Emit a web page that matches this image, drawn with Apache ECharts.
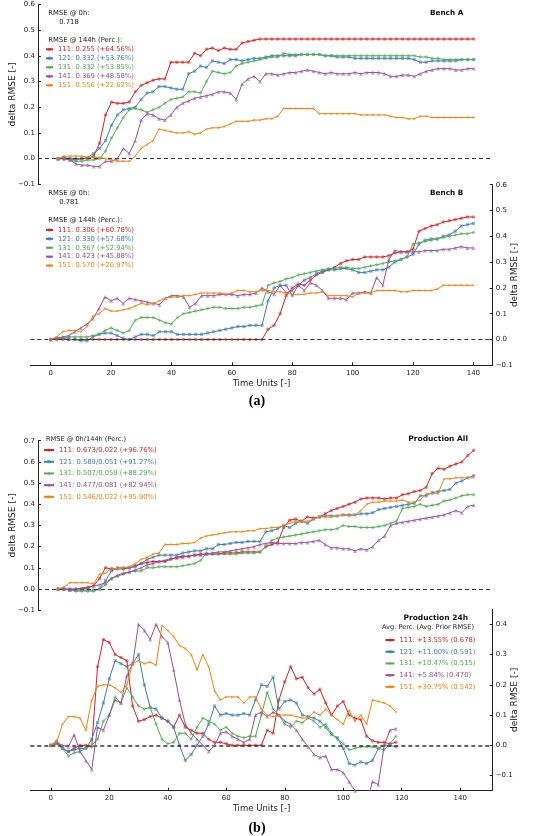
<!DOCTYPE html>
<html><head><meta charset="utf-8">
<script src="https://cdn.jsdelivr.net/npm/echarts@6/dist/echarts.min.js"></script>
<style>html,body{margin:0;padding:0;background:#fff}#c{width:545px;height:836px}</style>
</head><body><div id="c"></div>
<script>
// ---------- data ----------
const timeAC = [0,2,4,6,8,10,12,14,16,18,20,22,24,26,28,30,32,34,36,38,40,42,44,46,48,50,52,54,56,58,60,62,64,66,68,70,72,74,76,78,80,82,84,86,88,90,92,94,96,98,100,102,104,106,108,110,112,114,116,118,120,122,124,126,128,130,132,134,136,138,140];
const timeD = [0,2,4,6,8,10,12,14,16,18,20,22,24,26,28,30,32,34,36,38,40,42,44,46,48,50,52,54,56,58,60,62,64,66,68,70,72,74,76,78,80,82,84,86,88,90,92,94,96,98,100,102,104,106,108,110,112,114,116,118];

const labelsA = ['111: 0.255 (+64.56%)','121: 0.332 (+53.76%)','131: 0.332 (+53.85%)','141: 0.369 (+48.58%)','151: 0.556 (+22.62%)'];
const labelsB = ['111: 0.306 (+60.78%)','121: 0.330 (+57.68%)','131: 0.367 (+52.94%)','141: 0.423 (+45.88%)','151: 0.570 (+26.97%)'];
const labelsC = ['111: 0.673/0.022 (+96.76%)','121: 0.589/0.051 (+91.27%)','131: 0.507/0.059 (+88.29%)','141: 0.477/0.081 (+82.94%)','151: 0.546/0.022 (+95.90%)'];
const labelsD = ['111: +13.55% (0.678)','121: +11.00% (0.591)','131: +10.47% (0.515)','141: +5.84% (0.470)','151: +30.75% (0.542)'];

const benchA111 = [0,0,0,0,0,0,0.01,0.06,0.17,0.22, 0.215,0.215,0.22,0.26,0.285,0.295,0.305,0.31,0.31,0.375, 0.375,0.375,0.375,0.41,0.40,0.425,0.43,0.42,0.43,0.425, 0.425,0.45,0.455,0.46,0.465,0.465,0.465,0.465,0.465,0.465, 0.465,0.465,0.465,0.465,0.465,0.465,0.465,0.465,0.465,0.465, 0.465,0.465,0.465,0.465,0.465,0.465,0.465,0.465,0.465,0.465, 0.465,0.465,0.465,0.465,0.465,0.465,0.465,0.465,0.465,0.465, 0.465];
const benchA121 = [0,0.005,0,-0.005,0,0.005,0.02,0.04,0.07,0.13, 0.17,0.19,0.195,0.20,0.23,0.255,0.26,0.28,0.28,0.275, 0.27,0.27,0.33,0.34,0.36,0.355,0.38,0.375,0.37,0.385, 0.385,0.38,0.385,0.39,0.39,0.395,0.40,0.40,0.40,0.40, 0.40,0.405,0.405,0.405,0.405,0.40,0.40,0.395,0.395,0.395, 0.39,0.39,0.39,0.39,0.39,0.39,0.39,0.39,0.39,0.39, 0.385,0.375,0.375,0.38,0.38,0.38,0.38,0.38,0.385,0.385, 0.385];
const benchA131 = [0,0,-0.005,-0.01,-0.01,-0.005,-0.005,0,0.03,0.08, 0.12,0.16,0.19,0.195,0.19,0.18,0.19,0.20,0.215,0.23, 0.235,0.24,0.26,0.26,0.255,0.30,0.34,0.335,0.33,0.335, 0.36,0.37,0.375,0.38,0.385,0.39,0.395,0.395,0.41,0.405, 0.405,0.405,0.405,0.405,0.405,0.40,0.40,0.40,0.40,0.40, 0.40,0.40,0.40,0.40,0.40,0.40,0.40,0.40,0.40,0.40, 0.40,0.395,0.395,0.39,0.39,0.385,0.385,0.385,0.385,0.385, 0.385];
const benchA141 = [0,0,-0.005,-0.02,-0.025,-0.025,-0.03,-0.03,-0.01,-0.01, 0.0,0.04,0.02,0.07,0.15,0.175,0.17,0.155,0.15,0.17, 0.20,0.215,0.225,0.235,0.24,0.245,0.25,0.26,0.26,0.255, 0.23,0.29,0.31,0.32,0.30,0.33,0.33,0.325,0.33,0.335, 0.335,0.34,0.345,0.34,0.335,0.33,0.335,0.33,0.33,0.33, 0.335,0.33,0.335,0.335,0.335,0.33,0.32,0.32,0.325,0.325, 0.32,0.33,0.34,0.345,0.35,0.35,0.35,0.345,0.345,0.35, 0.35];
const benchA151 = [0,0.01,0.01,0.01,0.01,0.005,0.005,0.005,0,-0.005, -0.01,-0.01,-0.01,0.01,0.04,0.055,0.07,0.115,0.11,0.105, 0.10,0.10,0.105,0.095,0.10,0.115,0.12,0.12,0.125,0.135, 0.145,0.145,0.145,0.15,0.15,0.155,0.155,0.165,0.195,0.195, 0.195,0.195,0.195,0.195,0.175,0.175,0.175,0.175,0.175,0.175, 0.175,0.17,0.17,0.17,0.17,0.17,0.165,0.16,0.16,0.155, 0.155,0.165,0.165,0.16,0.16,0.16,0.16,0.16,0.16,0.16, 0.16];

const benchB111 = [0,0,0,0,0,0,0,0,0,0, 0,0,0,0,0,0,0,0,0,0, 0,0,0,0,0,0,0,0,0,0, 0,0,0,0,0, 0,0.04,0.055,0.10,0.17, 0.20,0.215,0.21,0.23,0.25,0.26,0.27,0.28,0.295,0.305, 0.31,0.31,0.32,0.32,0.32,0.32,0.325,0.335,0.34,0.34, 0.35,0.42,0.43,0.44,0.445,0.455,0.46,0.465,0.47,0.475, 0.475];
const benchB121 = [0,0.005,0.005,0,0,-0.005,-0.005,0.01,0.02,0.025, 0.025,0.015,0.005,0,0.01,0.02,0.02,0.015,0.03,0.03, 0.03,0.02,0.02,0.02,0.02,0.02,0.025,0.03,0.035,0.04, 0.045,0.05,0.05,0.055,0.055,0.055,0.15,0.20,0.21,0.21, 0.17,0.21,0.23,0.24,0.255,0.265,0.27,0.27,0.275,0.275, 0.27,0.26,0.26,0.265,0.27,0.27,0.28,0.30,0.31,0.32, 0.33,0.37,0.385,0.39,0.39,0.40,0.405,0.42,0.44,0.445, 0.45];
const benchB131 = [0,0.005,0.005,0.01,0.01,0.01,0.01,0.015,0.02,0.035, 0.045,0.035,0.025,0.035,0.075,0.085,0.085,0.085,0.075,0.065, 0.06,0.085,0.10,0.105,0.11,0.115,0.12,0.125,0.125,0.12, 0.12,0.12,0.125,0.125,0.13,0.135,0.21,0.22,0.225,0.235, 0.24,0.25,0.255,0.26,0.265,0.27,0.275,0.275,0.28,0.28, 0.275,0.275,0.28,0.285,0.29,0.295,0.30,0.305,0.31,0.32, 0.37,0.375,0.38,0.385,0.39,0.395,0.40,0.405,0.41,0.41, 0.415];
const benchB141 = [0,0.005,0.01,0.015,0.03,0.045,0.06,0.08,0.12,0.165, 0.15,0.16,0.14,0.16,0.155,0.15,0.145,0.14,0.135,0.16, 0.17,0.17,0.165,0.125,0.14,0.17,0.17,0.17,0.175,0.175, 0.175,0.17,0.175,0.175,0.18,0.20,0.185,0.175,0.21,0.18, 0.19,0.21,0.19,0.22,0.21,0.19,0.16,0.16,0.16,0.155, 0.18,0.18,0.185,0.18,0.24,0.21,0.31,0.345,0.34,0.34, 0.34,0.34,0.345,0.345,0.345,0.35,0.35,0.355,0.36,0.355, 0.355];
const benchB151 = [0,0.01,0.03,0.035,0.035,0.03,0.05,0.09,0.10,0.12, 0.11,0.11,0.115,0.12,0.13,0.14,0.135,0.14,0.15,0.16, 0.165,0.165,0.17,0.17,0.175,0.18,0.18,0.18,0.18,0.175, 0.18,0.19,0.19,0.185,0.185,0.19,0.19,0.185,0.185,0.18, 0.175,0.175,0.175,0.18,0.18,0.185,0.17,0.17,0.17,0.17, 0.165,0.18,0.18,0.18,0.19,0.19,0.19,0.19,0.185,0.185, 0.19,0.19,0.19,0.19,0.195,0.21,0.21,0.21,0.21,0.21, 0.21];

const prodAll111 = [0,0,0,0,0,0.005,0.015,0.05,0.10,0.095, 0.095,0.095,0.10,0.11,0.12,0.125,0.13,0.13,0.13,0.14, 0.15,0.155,0.155,0.16,0.165,0.165,0.165,0.165,0.17,0.17, 0.17,0.175,0.175,0.175,0.175,0.20,0.21,0.22,0.29,0.325, 0.33,0.32,0.34,0.335,0.34,0.355,0.37,0.38,0.39,0.40, 0.41,0.425,0.43,0.43,0.43,0.425,0.43,0.43,0.445,0.45, 0.46,0.465,0.48,0.545,0.57,0.565,0.58,0.59,0.60,0.63, 0.655];
const prodAll121 = [0,0,-0.005,-0.005,-0.005,-0.005,-0.005,0,0.04,0.085, 0.10,0.10,0.10,0.105,0.12,0.14,0.15,0.16,0.16,0.16, 0.16,0.17,0.175,0.18,0.18,0.19,0.19,0.21,0.21,0.215, 0.22,0.22,0.225,0.225,0.225,0.27,0.275,0.285,0.30,0.29, 0.31,0.32,0.31,0.33,0.34,0.345,0.345,0.345,0.35,0.35, 0.35,0.355,0.355,0.36,0.375,0.38,0.385,0.39,0.395,0.40, 0.405,0.44,0.44,0.455,0.46,0.465,0.47,0.50,0.51,0.525, 0.535];
const prodAll131 = [0,0,-0.005,-0.01,-0.01,-0.01,-0.01,0,0.02,0.05, 0.06,0.07,0.08,0.085,0.085,0.10,0.10,0.105,0.105,0.105, 0.105,0.11,0.115,0.12,0.135,0.17,0.165,0.165,0.165,0.165, 0.165,0.17,0.17,0.17,0.175,0.20,0.23,0.24,0.245,0.25, 0.255,0.26,0.265,0.27,0.275,0.28,0.28,0.285,0.30,0.295, 0.295,0.29,0.29,0.29,0.295,0.30,0.31,0.32,0.38,0.385, 0.39,0.40,0.39,0.395,0.40,0.415,0.42,0.43,0.44,0.445, 0.445];
const prodAll141 = [0,0,-0.005,0,0.005,0.01,0.015,0.02,0.03,0.05, 0.065,0.075,0.08,0.09,0.10,0.115,0.12,0.13,0.135,0.145, 0.145,0.15,0.155,0.16,0.16,0.165,0.17,0.175,0.175,0.18, 0.185,0.19,0.195,0.20,0.21,0.215,0.22,0.215,0.215,0.215, 0.215,0.22,0.22,0.225,0.23,0.21,0.195,0.195,0.19,0.19, 0.18,0.19,0.185,0.20,0.23,0.25,0.30,0.31,0.315,0.32, 0.325,0.33,0.335,0.34,0.345,0.35,0.36,0.37,0.36,0.39, 0.395];
const prodAll151 = [0,0.01,0.03,0.03,0.03,0.03,0.025,0.07,0.075,0.10, 0.095,0.10,0.105,0.12,0.14,0.15,0.165,0.17,0.21,0.21, 0.21,0.215,0.215,0.22,0.24,0.25,0.255,0.26,0.265,0.27, 0.27,0.27,0.275,0.275,0.285,0.285,0.29,0.29,0.30,0.31, 0.32,0.32,0.32,0.33,0.34,0.34,0.34,0.345,0.35,0.345, 0.35,0.37,0.40,0.41,0.41,0.415,0.415,0.415,0.42,0.41, 0.41,0.42,0.45,0.45,0.45,0.52,0.52,0.525,0.525,0.525, 0.525];

const prod24h111 = [0,0.01,-0.01,-0.02,-0.01,0,0,-0.005,0.26,0.35, 0.34,0.30,0.29,0.28,0.13,0.08,0.085,0.095,0.10,0.09, 0.08,0.06,0.10,0.06,0.05,0.04,0.04,0.02,0.01,0.01, 0.005,0,0,0,0,0,0,0.05,0.04,0.15, 0.21,0.26,0.22,0.225,0.19,0.17,0.185,0.14,0.10,0.13, 0.145,0.10,0.09,0.085,0.03,0.015,0.01,0.01,0.005,0.01];
const prod24h121 = [0,0.005,-0.01,-0.02,-0.015,-0.01,-0.01,0.02,0.075,0.14, 0.22,0.28,0.27,0.26,0.27,0.30,0.20,0.125,0.12,0.09, 0.08,0.06,0,-0.05,-0.03,0,0.03,0.07,0.13,0.10, 0.105,0.10,0.10,0.105,0.10,0.15,0.20,0.195,0.225,0.12, 0.145,0.15,0.14,0.10,0.095,0.09,0.08,0.06,0.035,0.025, -0.01,-0.06,-0.065,-0.055,-0.06,-0.05,-0.01,0,0,-0.005];
const prod24h131 = [0,0.015,-0.01,-0.035,-0.025,-0.02,-0.01,0,0.02,0.08, 0.10,0.16,0.14,0.19,0.16,0.13,0.12,0.125,0.07,0.02, 0.005,0.01,0.04,0.04,0.02,0.06,0.09,0.08,0.07,0.05, 0.06,0.04,0.03,0.025,0.03,0.03,0.10,0.175,0.12,0.10, 0.07,0.06,0.08,0.075,0.09,0.08,0.06,0.07,0.04,0.02, 0.005,-0.015,-0.01,-0.005,-0.005,-0.005,-0.01,-0.015,0.005,0.03];
const prod24h141 = [0,0.01,0,-0.005,0.035,-0.02,-0.05,-0.08,0.06,0.05, 0.10,0.15,0.14,0.23,0.27,0.40,0.38,0.35,0.40,0.36, 0.34,0.25,0.15,0.07,0.04,0.02,0,-0.02,0,0.04, 0.045,0.03,0.02,0.01,0.02,0.10,0.11,0.095,0.11,0.10, 0.08,0.07,0.05,0.02,-0.005,-0.03,-0.04,-0.035,-0.08,-0.08, -0.09,-0.12,-0.15,-0.17,-0.19,-0.12,-0.13,0.0,0.05,0.055];
const prod24h151 = [0,0.01,0.07,0.095,0.095,0.09,0.05,0.15,0.195,0.20, 0.20,0.19,0.175,0.20,0.27,0.28,0.27,0.275,0.265,0.395, 0.38,0.36,0.33,0.32,0.30,0.25,0.30,0.26,0.18,0.15, 0.16,0.16,0.16,0.14,0.16,0.16,0.12,0.10,0.095,0.10, 0.10,0.10,0.095,0.09,0.09,0.11,0.10,0.12,0.10,0.085, 0.07,0.115,0.08,0.10,0.07,0.15,0.145,0.14,0.13,0.11];

const yTicksAB = [-0.1,0,0.1,0.2,0.3,0.4,0.5,0.6];
const yTicksC = [-0.1,0,0.1,0.2,0.3,0.4,0.5,0.6,0.7];
const yTicksD = [-0.1,0,0.1,0.2,0.3,0.4];
const xTicks = [0,20,40,60,80,100,120,140];

// ---------- styling ----------
const COLORS = ['#e41a1c','#377eb8','#4daf4a','#984ea3','#ff7f00'];
const SYMBOLS = ['circle','rect','diamond','triangle','circle'];
const SYMSIZE = [3.5,3.2,4,4,2.4];
const FONT = 'DejaVu Sans';
const AX = '#222';

const panels = [
  {grid:{left:30.3, top:4.3, width:462.4, height:180.1}, xmin:-6.75, xmax:146.4, ymin:-0.1, ymax:0.6, yt:yTicksAB, ypos:'left', xshow:false,
   times:timeAC, names:labelsA, vals:[benchA111,benchA121,benchA131,benchA141,benchA151], zw:1.2},
  {grid:{left:30.3, top:184.7, width:462.4, height:180.6}, xmin:-6.75, xmax:146.4, ymin:-0.1, ymax:0.6, yt:yTicksAB, ypos:'right', xshow:true,
   times:timeAC, names:labelsB, vals:[benchB111,benchB121,benchB131,benchB141,benchB151], zw:1.2},
  {grid:{left:30.3, top:440.7, width:462.4, height:169.5}, xmin:-6.75, xmax:146.4, ymin:-0.1, ymax:0.7, yt:yTicksC, ypos:'left', xshow:false,
   times:timeAC, names:labelsC, vals:[prodAll111,prodAll121,prodAll131,prodAll141,prodAll151], zw:1.2},
  {grid:{left:30.3, top:609.2, width:462.4, height:181.5}, xmin:-7, xmax:151.1, ymin:-0.15, ymax:0.45, yt:yTicksD, ypos:'right', xshow:true,
   times:timeD, names:labelsD, vals:[prod24h111,prod24h121,prod24h131,prod24h141,prod24h151], zw:1.6}
];

const fmt = v => { const r = Math.round(v*10)/10; return (r === 0 ? '0.0' : r.toFixed(1)).replace('-', '\u2212'); };

const grid = [], xAxis = [], yAxis = [], series = [];
panels.forEach((p, gi) => {
  grid.push(p.grid);
  xAxis.push({
    gridIndex: gi, type: 'value', min: p.xmin, max: p.xmax,
    axisLine: {show: p.xshow, onZero: false, lineStyle: {color: AX, width: 1}},
    axisTick: {show: p.xshow, inside: true, length: 3, customValues: xTicks, lineStyle: {color: AX}},
    axisLabel: {show: p.xshow, customValues: xTicks, fontSize: 7, fontFamily: FONT, color: AX, margin: 4},
    splitLine: {show: false},
    name: p.xshow ? 'Time Units [-]' : '', nameLocation: 'middle', nameGap: 14, nameMoveOverlap: false,
    nameTextStyle: {fontSize: 8.5, fontFamily: FONT, color: AX}
  });
  yAxis.push({
    gridIndex: gi, type: 'value', position: p.ypos, min: p.ymin, max: p.ymax,
    axisLine: {show: true, onZero: false, lineStyle: {color: AX, width: 1}},
    axisTick: {show: true, inside: true, length: 3, customValues: p.yt, lineStyle: {color: AX}},
    axisLabel: {customValues: p.yt, formatter: fmt, fontSize: 7, fontFamily: FONT, color: AX, margin: 3},
    splitLine: {show: false},
    name: 'delta RMSE [-]', nameLocation: 'middle', nameRotate: 90, nameMoveOverlap: false,
    nameGap: p.ypos === 'left' ? 21 : 17,
    nameTextStyle: {fontSize: 9, fontFamily: FONT, color: AX}
  });
  p.vals.forEach((arr, si) => {
    const s = {
      type: 'line', name: p.names[si], xAxisIndex: gi, yAxisIndex: gi,
      data: arr.map((v, k) => [p.times[k], v]),
      symbol: SYMBOLS[si], symbolSize: SYMSIZE[si], showAllSymbol: true, showSymbol: true,
      lineStyle: {width: 1, color: COLORS[si]},
      itemStyle: {color: COLORS[si], opacity: 0.55},
      emphasis: {disabled: true}, clip: true, z: 2 + si
    };
    if (si === 0) {
      s.markLine = {silent: true, symbol: 'none', label: {show: false}, animation: false,
        lineStyle: {color: '#333', type: [4, 3], width: p.zw}, data: [{yAxis: 0}]};
    }
    series.push(s);
  });
});

const legendBase = (names, left, top, lh, fs, iw) => ({
  orient: 'vertical', left: left, top: top, padding: 0, itemGap: 0, itemWidth: iw, itemHeight: 4,
  selectedMode: false,
  textStyle: {fontSize: fs, fontFamily: FONT, lineHeight: lh, padding: 0},
  data: names.map((n, i) => ({name: n, textStyle: {color: COLORS[i]}}))
});

const legend = [
  legendBase(labelsA, 45, 44.8, 9, 6.8, 7),
  legendBase(labelsB, 45, 225.5, 8.9, 6.8, 7),
  legendBase(labelsC, 43, 444.2, 11.7, 6.8, 10),
  legendBase(labelsD, 384.5, 634.2, 11.7, 6.8, 9)
];

const txt = (text, x, y, opt) => Object.assign({
  type: 'text', x: x, y: y, silent: true,
  style: Object.assign({text: text, fill: AX, fontSize: 6.8, fontFamily: FONT, align: 'left', verticalAlign: 'middle'}, opt || {})
});

const graphic = [
  txt('RMSE @ 0h:', 48.3, 13.3),
  txt('0.718', 59.3, 22.3),
  txt('RMSE @ 144h (Perc.):', 48.3, 40.7),
  txt('Bench A', 463.3, 13.3, {fontWeight: 'bold', fontSize: 7.3, align: 'right', fill: '#111'}),
  txt('RMSE @ 0h:', 48.3, 193.3),
  txt('0.781', 59.3, 202.7),
  txt('RMSE @ 144h (Perc.):', 48.3, 220.7),
  txt('Bench B', 463.3, 193.3, {fontWeight: 'bold', fontSize: 7.3, align: 'right', fill: '#111'}),
  txt('RMSE @ 0h/144h (Perc.)', 46, 439, {fontSize: 6.6}),
  txt('Production All', 468, 439, {fontWeight: 'bold', fontSize: 7.5, align: 'right', fill: '#111'}),
  txt('Production 24h', 468, 618, {fontWeight: 'bold', fontSize: 7.5, align: 'right', fill: '#111'}),
  txt('Avg. Perc. (Avg. Prior RMSE)', 474, 627.7, {fontSize: 6.6, align: 'right'}),
  txt('(a)', 257, 401.7, {fontFamily: 'Liberation Serif', fontWeight: 'bold', fontSize: 14, align: 'center', fill: '#000'}),
  txt('(b)', 257, 828, {fontFamily: 'Liberation Serif', fontWeight: 'bold', fontSize: 14, align: 'center', fill: '#000'})
];

const chart = echarts.init(document.getElementById('c'), null, {renderer: 'canvas'});
chart.setOption({
  animation: false,
  backgroundColor: '#fff',
  grid, xAxis, yAxis, series, legend, graphic,
  tooltip: {show: false}
});
</script></body></html>
